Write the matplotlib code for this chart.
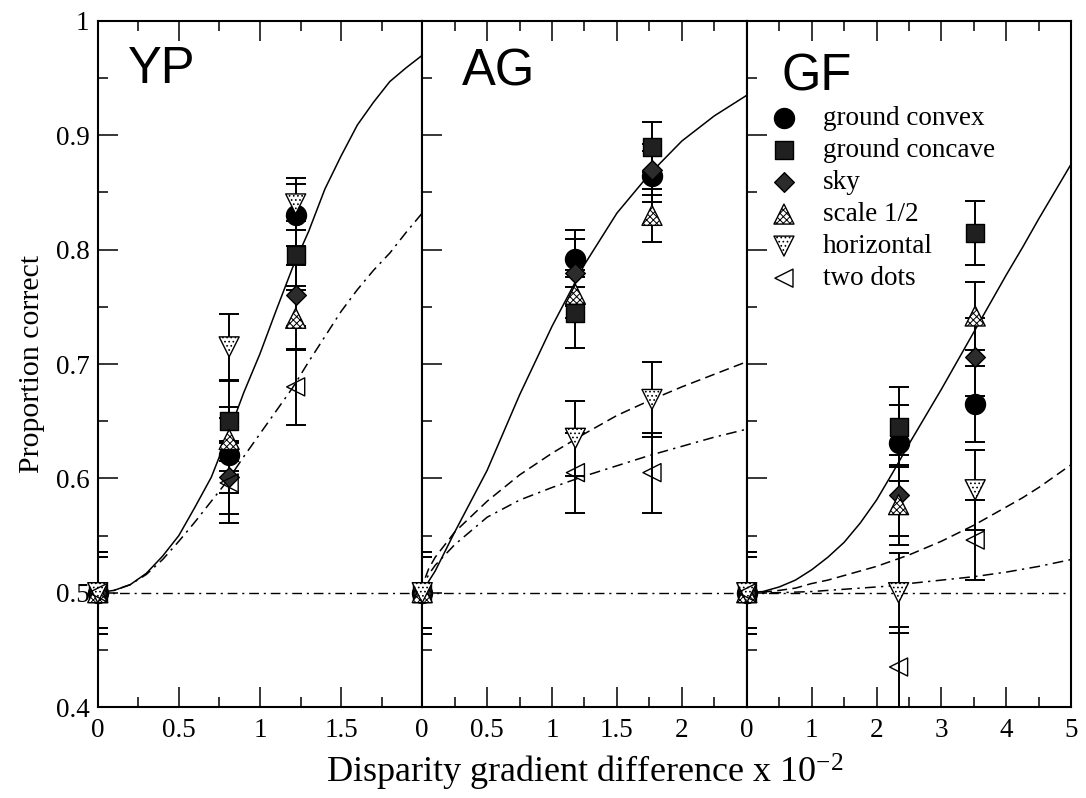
import numpy as np
import matplotlib
matplotlib.use("Agg")
import matplotlib.pyplot as plt

plt.rcParams['font.family'] = 'Liberation Serif'
plt.rcParams['mathtext.fontset'] = 'custom'
plt.rcParams['mathtext.rm'] = 'Liberation Serif'
plt.rcParams['mathtext.default'] = 'regular'
plt.rcParams['hatch.linewidth'] = 0.7

#---Data---#
names = ["ground convex", "ground concave", "sky", "scale 1/2", "horizontal", "two dots"]
panel_names = ["YP", "AG", "GF"]
x_max = [2.0, 2.5, 5.0]
chance = 0.5

# YP : rows follow names
yp_x = [0, 0.81, 1.22]
yp_y = [[0.5, 0.620, 0.830],
        [0.5, 0.650, 0.795],
        [0.5, 0.601, 0.760],
        [0.5, 0.634, 0.740],
        [0.5, 0.715, 0.840],
        [0.5, 0.596, 0.680]]
yp_err = [[0.031, 0.033, 0.027],
          [0.031, 0.035, 0.030],
          [0.031, 0.032, 0.027],
          [0.031, 0.028, 0.028],
          [0.036, 0.029, 0.023],
          [0.036, 0.035, 0.033]]

# AG
ag_x = [0, 1.18, 1.77]
ag_y = [[0.5, 0.792, 0.864],
        [0.5, 0.745, 0.890],
        [0.5, 0.780, 0.870],
        [0.5, 0.761, 0.830],
        [0.5, 0.635, 0.669],
        [np.nan, 0.605, 0.605]]
ag_err = [[0.031, 0.025, 0.022],
          [0.031, 0.031, 0.022],
          [0.031, 0.029, 0.022],
          [0.031, 0.021, 0.023],
          [0.036, 0.033, 0.033],
          [0.036, 0.035, 0.035]]

# GF
gf_x = [0, 2.34, 3.52]
gf_y = [[0.5, 0.631, 0.665],
        [0.5, 0.645, 0.815],
        [0.5, 0.585, 0.706],
        [0.5, 0.577, 0.742],
        [0.5, 0.500, 0.590],
        [0.5, 0.435, 0.546]]
gf_err = [[0.031, 0.033, 0.033],
          [0.031, 0.035, 0.028],
          [0.031, 0.035, 0.034],
          [0.031, 0.035, 0.030],
          [0.036, 0.035, 0.035],
          [0.036, 0.035, 0.035]]

# fitted curves
yp_fit_x = [0, 0.1, 0.2, 0.3, 0.4, 0.5, 0.6, 0.7, 0.8, 0.9, 1.0, 1.1, 1.2, 1.3, 1.4, 1.5, 1.6, 1.7, 1.8, 1.9, 2.0]
yp_solid = [0.5, 0.502, 0.507, 0.517, 0.532, 0.550, 0.575, 0.601, 0.637, 0.675, 0.709, 0.747, 0.784, 0.816, 0.853, 0.882, 0.909, 0.929, 0.947, 0.959, 0.970]
yp_dashdot = [0.5, 0.502, 0.507, 0.516, 0.529, 0.545, 0.562, 0.580, 0.598, 0.619, 0.639, 0.659, 0.679, 0.702, 0.724, 0.746, 0.765, 0.782, 0.797, 0.815, 0.832]

ag_fit_x = [0, 0.02, 0.05, 0.1, 0.25, 0.5, 0.75, 1.0, 1.25, 1.5, 1.75, 2.0, 2.25, 2.5]
ag_solid = [0.5, 0.504, 0.510, 0.519, 0.553, 0.607, 0.673, 0.733, 0.787, 0.832, 0.866, 0.895, 0.917, 0.935]
ag_dashed = [0.5, 0.512, 0.521, 0.531, 0.553, 0.580, 0.603, 0.622, 0.639, 0.655, 0.668, 0.680, 0.691, 0.702]
ag_dashdot = [0.5, 0.509, 0.516, 0.524, 0.542, 0.566, 0.581, 0.592, 0.602, 0.611, 0.620, 0.628, 0.636, 0.643]

gf_fit_x = [0, 0.25, 0.5, 0.75, 1.0, 1.25, 1.5, 1.75, 2.0, 2.25, 2.5, 2.75, 3.0, 3.25, 3.5, 3.75, 4.0, 4.25, 4.5, 4.75, 5.0]
gf_solid = [0.5, 0.501, 0.505, 0.511, 0.520, 0.531, 0.544, 0.561, 0.581, 0.605, 0.630, 0.654, 0.678, 0.703, 0.728, 0.753, 0.778, 0.802, 0.827, 0.851, 0.875]
gf_dashed = [0.5, 0.5005, 0.502, 0.504, 0.508, 0.511, 0.515, 0.519, 0.523, 0.528, 0.533, 0.539, 0.545, 0.552, 0.559, 0.567, 0.575, 0.583, 0.592, 0.602, 0.612]
gf_dashdot = [0.5, 0.5, 0.5, 0.5005, 0.501, 0.502, 0.503, 0.504, 0.505, 0.506, 0.508, 0.5095, 0.511, 0.5125, 0.514, 0.516, 0.518, 0.5205, 0.523, 0.526, 0.529]

# tick labels
yp_ticks = [0, 0.5, 1, 1.5, 2]
yp_ticklabels = ["0", "0.5", "1", "1.5", ""]
ag_ticks = [0, 0.5, 1, 1.5, 2, 2.5]
ag_ticklabels = ["0", "0.5", "1", "1.5", "2", ""]
gf_ticks = [0, 1, 2, 3, 4, 5]
gf_ticklabels = ["0", "1", "2", "3", "4", "5"]
y_ticks = [0.4, 0.5, 0.6, 0.7, 0.8, 0.9, 1.0]
y_ticklabels = ["0.4", "0.5", "0.6", "0.7", "0.8", "0.9", "1"]
#---End of data---#

# marker styles
markers = ['o', 's', 'D', '^', 'v', '<']
msizes = [14.4, 12.5, 10.0, 14.4, 14.4, 13.0]
faces = ['black', '#202020', '#2c2c2c', 'white', 'white', 'none']
hatches = [None, None, None, 'xxxxx', '....', None]

dashdot = (0, (7, 3.5, 1.5, 3.5))
dashed = (0, (6.5, 3.5))

fig, axes = plt.subplots(1, 3, sharey=True, figsize=(10.86, 7.98), dpi=100)
fig.subplots_adjust(left=0.09, right=0.9864, bottom=0.114, top=0.9737, wspace=0)

panel_x = [yp_x, ag_x, gf_x]
panel_y = [yp_y, ag_y, gf_y]
panel_err = [yp_err, ag_err, gf_err]
fits = [(yp_fit_x, [(yp_solid, '-'), (yp_dashdot, dashdot)]),
        (ag_fit_x, [(ag_solid, '-'), (ag_dashed, dashed), (ag_dashdot, dashdot)]),
        (gf_fit_x, [(gf_solid, '-'), (gf_dashed, dashed), (gf_dashdot, dashdot)])]
ticks = [(yp_ticks, yp_ticklabels, 0.25), (ag_ticks, ag_ticklabels, 0.25), (gf_ticks, gf_ticklabels, 0.5)]
label_pos = [(0.093, 0.909), (0.122, 0.906), (0.106, 0.898)]

handles = []
for p in range(3):
	ax = axes[p]
	ax.axhline(chance, color='black', lw=1.0, ls=dashdot, zorder=1)
	fx, curves = fits[p]
	for cy, style in curves:
		ax.plot(fx, cy, color='black', lw=1.1, ls=style, zorder=2)

	for i in range(6):
		ax.errorbar(panel_x[p], panel_y[p][i], yerr=panel_err[p][i], fmt='none',
			ecolor='black', elinewidth=1.4, capsize=7.2, capthick=1.4, zorder=3)
	for i in range(6):
		sc = ax.scatter(panel_x[p], panel_y[p][i], s=msizes[i] ** 2, marker=markers[i],
			facecolors=faces[i], edgecolors='black', linewidths=1.0,
			hatch=hatches[i], clip_on=False, zorder=4, label=names[i])
		if p == 2:
			handles.append(sc)

	ax.set_xlim(0, x_max[p])
	ax.set_ylim(0.4, 1.0)
	tk, tl, mstep = ticks[p]
	ax.set_xticks(tk)
	ax.set_xticklabels(tl)
	ax.set_xticks(np.arange(0, x_max[p] + 0.001, mstep), minor=True)
	ax.set_yticks(y_ticks)
	ax.set_yticks(np.arange(0.4, 1.0001, 0.05), minor=True)
	ax.tick_params(axis='x', which='both', direction='in', top=True, bottom=True, width=1.1, labelsize=19.5, pad=8)
	ax.tick_params(axis='y', which='both', direction='in', left=True, right=False, width=1.1, labelsize=19.5, pad=6)
	ax.tick_params(which='major', length=14.4)
	ax.tick_params(which='minor', length=7.2)
	for s in ax.spines.values():
		s.set_linewidth(1.5)
	ax.text(label_pos[p][0], label_pos[p][1], panel_names[p], transform=ax.transAxes,
		fontsize=36.5, family='Liberation Sans', ha='left', va='baseline')

axes[0].set_yticklabels(y_ticklabels)

axes[2].legend(handles, names, loc='upper left', bbox_to_anchor=(0.073, 0.876),
	frameon=False, fontsize=19.5, handlelength=1.0, handletextpad=0.94,
	labelspacing=0.26, borderpad=0, borderaxespad=0, scatterpoints=1)

fig.text(0.5386, 0.019, 'Disparity gradient difference x 10$^{-2}$', ha='center', va='baseline', fontsize=26)
fig.text(0.0295, 0.5437, 'Proportion correct', rotation=90, ha='center', va='center', fontsize=21.5)

plt.savefig("out.png", dpi=100)
